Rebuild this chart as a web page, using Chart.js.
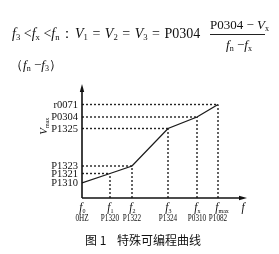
<!DOCTYPE html>
<html><head><meta charset="utf-8">
<script src="https://cdn.jsdelivr.net/npm/chart.js@4"></script>
<style>
html,body{margin:0;padding:0;background:#fff;width:279px;height:254px;overflow:hidden}
#wrap{position:relative;width:279px;height:254px}
canvas{position:absolute;left:0;top:0}
.t{position:absolute;white-space:nowrap;font-family:"Liberation Serif","DejaVu Serif",serif;color:#111;line-height:1}
.t i{font-style:italic}
.t sub{font-size:0.62em;vertical-align:-0.2em;line-height:0}
.cap{position:absolute;white-space:nowrap;font-family:"Noto Sans CJK SC",sans-serif;color:#111;font-size:12px;line-height:1}
</style></head><body>
<div id="wrap">
<canvas id="c" width="279" height="254"></canvas>
<div class="t" style="left:12px;top:27px;font-size:14px"><i>f</i><sub>3</sub> &lt;<i>f</i><sub>x</sub> &lt;<i>f</i><sub>n</sub>：</div>
<div class="t" style="left:75px;top:27px;font-size:14px;word-spacing:1px"><i>V</i><sub>1</sub> = <i>V</i><sub>2</sub> = <i>V</i><sub>3</sub> = P0304</div>
<div class="t" style="left:210px;top:18px;font-size:13px">P0304 − <i>V</i><sub>x</sub></div>
<div style="position:absolute;left:210px;top:34px;width:55px;height:1px;background:#222"></div>
<div class="t" style="left:226px;top:38px;font-size:13px"><i>f</i><sub>n</sub> −<i>f</i><sub>x</sub></div>
<div class="t" style="left:10px;top:58px;font-size:13px">（<i>f</i><sub>n</sub> −<i>f</i><sub>3</sub>）</div>
<div class="cap" style="left:85px;top:234px">图 1 &nbsp;&nbsp;&nbsp;特殊可编程曲线</div>
</div>
<script>
// frequency break points (x positions, schematic units) and their labels
const freqSubs = ['0', '1', '2', '3', 'x', 'max'];
const freqCodes = ['0HZ', 'P1320', 'P1322', 'P1324', 'P0310', 'P1082'];
const freqPos = [0, 28, 50, 86, 115, 136];
// voltage break points (y values, schematic units) and their labels
const voltLabels = ['P1310', 'P1321', 'P1323', 'P1325', 'P0304', 'r0071'];
const voltValues = [15, 24.5, 32, 69.5, 81, 93.5];
const xMax = 163, yMax = 112;

const curve = freqPos.map((x, i) => ({x: x, y: voltValues[i]}));
const guides = [];
for (let i = 1; i < freqPos.length; i++) {
  guides.push({data: [{x: freqPos[i], y: 0}, {x: freqPos[i], y: voltValues[i]}]});
  guides.push({data: [{x: 0, y: voltValues[i]}, {x: freqPos[i], y: voltValues[i]}]});
}
const datasets = [{data: curve, borderColor: '#1a1a1a', borderWidth: 1.3, pointRadius: 0, showLine: true, tension: 0}];
guides.forEach(g => datasets.push({data: g.data, borderColor: '#222', borderWidth: 1.4, borderDash: [2, 2], pointRadius: 0, showLine: true}));

const serif = '"Liberation Serif","DejaVu Serif",serif';
const labelPlugin = {
  id: 'labels',
  afterDraw(chart) {
    const ctx = chart.ctx, xs = chart.scales.x, ys = chart.scales.y;
    const x0 = xs.getPixelForValue(0), y0 = ys.getPixelForValue(0);
    const xEnd = xs.getPixelForValue(xMax), yTop = ys.getPixelForValue(yMax);
    ctx.save();
    ctx.strokeStyle = '#111'; ctx.fillStyle = '#111'; ctx.lineWidth = 1.6;
    ctx.beginPath(); ctx.moveTo(x0, y0); ctx.lineTo(x0, yTop + 3); ctx.stroke();
    ctx.beginPath(); ctx.moveTo(x0, y0); ctx.lineTo(xEnd - 3, y0); ctx.stroke();
    ctx.beginPath(); ctx.moveTo(x0, yTop - 2); ctx.lineTo(x0 - 2.2, yTop + 6); ctx.lineTo(x0 + 2.2, yTop + 6); ctx.closePath(); ctx.fill();
    ctx.beginPath(); ctx.moveTo(xEnd + 2, y0); ctx.lineTo(xEnd - 6, y0 - 2.2); ctx.lineTo(xEnd - 6, y0 + 2.2); ctx.closePath(); ctx.fill();
    // y labels
    ctx.font = '10.5px ' + serif; ctx.textAlign = 'right'; ctx.textBaseline = 'middle';
    voltLabels.forEach((t, i) => ctx.fillText(t, x0 - 4, ys.getPixelForValue(voltValues[i]) + 0.5));
    // x labels
    freqPos.forEach((v, i) => {
      const px = xs.getPixelForValue(v);
      ctx.save(); ctx.translate(px, 0);
      ctx.font = 'italic 11.5px ' + serif; ctx.textAlign = 'right'; ctx.textBaseline = 'middle';
      ctx.fillText('f', 0.5, y0 + 10);
      ctx.font = '6px ' + serif; ctx.textAlign = 'left';
      ctx.fillText(freqSubs[i], 0.5, y0 + 13);
      ctx.restore();
      ctx.save(); ctx.translate(px, y0 + 20); ctx.scale(0.72, 1);
      ctx.font = '10px ' + serif; ctx.textAlign = 'center'; ctx.textBaseline = 'middle';
      ctx.fillText(freqCodes[i], 0, 0);
      ctx.restore();
    });
    ctx.font = 'italic 11.5px ' + serif; ctx.textAlign = 'center'; ctx.textBaseline = 'middle';
    ctx.fillText('f', xEnd - 2, y0 + 10);
    // y axis title
    ctx.save(); ctx.translate(44, ys.getPixelForValue(70)); ctx.rotate(-Math.PI / 2);
    ctx.font = 'italic 11px ' + serif; ctx.textAlign = 'right'; ctx.textBaseline = 'middle';
    ctx.fillText('V', 0, 0);
    ctx.font = '6px ' + serif; ctx.textAlign = 'left';
    ctx.fillText('max', 0, 3);
    ctx.restore();
    ctx.restore();
  }
};

new Chart(document.getElementById('c'), {
  type: 'scatter',
  data: {datasets: datasets},
  options: {
    responsive: false, animation: false, devicePixelRatio: 1,
    layout: {padding: {left: 82, right: 34, top: 86, bottom: 56}},
    plugins: {legend: {display: false}, tooltip: {enabled: false}},
    scales: {
      x: {type: 'linear', min: 0, max: xMax, display: false},
      y: {type: 'linear', min: 0, max: yMax, display: false}
    }
  },
  plugins: [labelPlugin]
});
</script>
</body></html>
